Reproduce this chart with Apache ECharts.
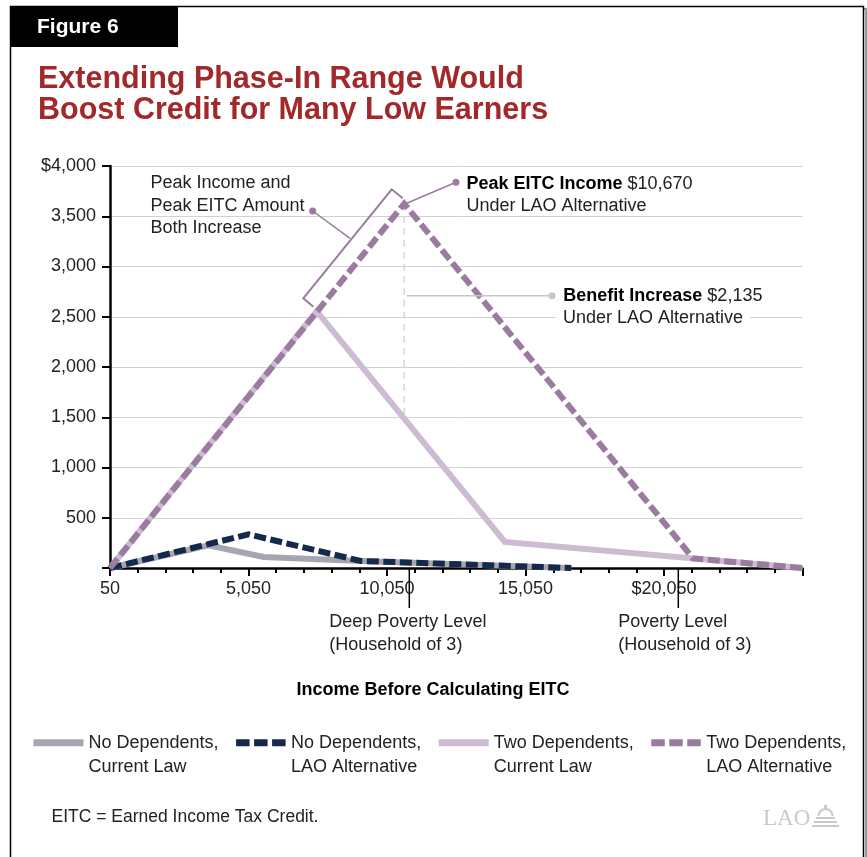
<!DOCTYPE html>
<html>
<head>
<meta charset="utf-8">
<script src="https://cdn.jsdelivr.net/npm/echarts@6/dist/echarts.min.js"></script>
<style>
  html, body { margin: 0; padding: 0; background: #fff; }
  #chart { width: 867px; height: 857px; }
</style>
</head>
<body>
<div id="chart"></div>
<script>
// Break points of each credit schedule: income before EITC (dollars) and credit (dollars)
const noDepCurrentIncome = [50, 3600, 5600, 9100, 16700];
const noDepCurrentCredit = [0, 225, 110, 70, 0];
const noDepLaoIncome = [50, 5050, 9100, 16700];
const noDepLaoCredit = [0, 335, 70, 0];
const twoDepCurrentIncome = [50, 7510, 14300, 25050];
const twoDepCurrentCredit = [0, 2555, 260, 0];
const twoDepLaoIncome = [50, 10670, 21100, 25050];
const twoDepLaoCredit = [0, 3625, 95, 0];

// Peak of the LAO alternative and the gain over current law at that income
const peakIncomeLao = 10670;
const benefitIncrease = 2135;

const seriesNames = [
  'No Dependents,\nCurrent Law',
  'No Dependents,\nLAO Alternative',
  'Two Dependents,\nCurrent Law',
  'Two Dependents,\nLAO Alternative'
];
const xTickLabels = ['50', '5,050', '10,050', '15,050', '$20,050', ''];
const yTickLabels = ['', '500', '1,000', '1,500', '2,000', '2,500', '3,000', '3,500', '$4,000'];

// The income axis starts at $50; positions along it are measured from there
const incomeStart = 50;
const toPoints = (inc, val) => inc.map((x, i) => [x - incomeStart, val[i]]);

const FONT = '"Liberation Sans", Arial, Helvetica, sans-serif';
const TXT = '#222222';
const PURPLE = '#9b7ba0';
const LAVENDER = '#cdbbd1';
const NAVY = '#15294c';
const GRAY = '#a7a6b0';

const chart = echarts.init(document.getElementById('chart'), null, { renderer: 'canvas' });

const peakCredit = twoDepLaoCredit[twoDepLaoIncome.indexOf(peakIncomeLao)];

const lineSeries = (name, data, color, dashed, z) => ({
  name, type: 'line', data, z,
  symbol: 'none', silent: true, animation: false,
  lineStyle: {
    color, width: 6, type: dashed ? [12, 4.5] : 'solid',
    cap: 'butt', join: 'miter'
  },
  itemStyle: { color }
});

// legend swatches: solid bars or three even dashes
const legendItem = (name, dashed) => ({
  name,
  lineStyle: { width: 7, type: dashed ? [13.5, 4.5] : 'solid', cap: 'butt' }
});

const option = {
  backgroundColor: '#ffffff',
  animation: false,
  grid: { left: 110, right: 64.4, top: 166, bottom: 289, containLabel: false },
  xAxis: {
    type: 'value', min: 0, max: 25000, interval: 5000,
    axisLine: { show: true, lineStyle: { color: '#000', width: 2.5 } },
    axisTick: { show: true, length: 8, lineStyle: { color: '#000', width: 2 } },
    minorTick: { show: true, splitNumber: 5, length: 5, lineStyle: { color: '#000', width: 2 } },
    splitLine: { show: false },
    axisLabel: {
      margin: 12, fontSize: 18, color: TXT, fontFamily: FONT,
      formatter: v => xTickLabels[Math.round(v / 5000)] || ''
    }
  },
  yAxis: {
    type: 'value', min: 0, max: 4000, interval: 500,
    axisLine: { show: true, lineStyle: { color: '#000', width: 2.5 } },
    axisTick: { show: true, length: 8, lineStyle: { color: '#000', width: 2 } },
    splitLine: { show: true, lineStyle: { color: '#d2d2d2', width: 1 } },
    axisLabel: {
      margin: 14, fontSize: 18, color: TXT, fontFamily: FONT,
      formatter: v => yTickLabels[Math.round(v / 500)]
    }
  },
  legend: {
    data: [
      legendItem(seriesNames[0], false),
      legendItem(seriesNames[1], true),
      legendItem(seriesNames[2], false),
      legendItem(seriesNames[3], true)
    ],
    left: 30, top: 706, padding: 0,
    itemWidth: 50, itemHeight: 7, itemGap: 14,
    selectedMode: false,
    // a leading blank line keeps the first text line level with the swatch
    formatter: name => '\n' + name,
    textStyle: { fontSize: 18, color: TXT, fontFamily: FONT, lineHeight: 24.5 }
  },
  series: [
    lineSeries(seriesNames[0], toPoints(noDepCurrentIncome, noDepCurrentCredit), GRAY, false, 2),
    lineSeries(seriesNames[1], toPoints(noDepLaoIncome, noDepLaoCredit), NAVY, true, 4),
    lineSeries(seriesNames[2], toPoints(twoDepCurrentIncome, twoDepCurrentCredit), LAVENDER, false, 3),
    lineSeries(seriesNames[3], toPoints(twoDepLaoIncome, twoDepLaoCredit), PURPLE, true, 5),
    {
      // Gain at the new peak income: from the LAO peak down by the benefit increase
      name: 'benefit', type: 'line', z: 1, silent: true, symbol: 'none',
      data: [
        [peakIncomeLao - incomeStart, peakCredit],
        [peakIncomeLao - incomeStart, peakCredit - benefitIncrease]
      ],
      lineStyle: { color: '#d6d6d6', width: 1.5, type: [7, 5] }
    }
  ],
  graphic: [
    // page frame with a soft drop shadow
    { type: 'rect', z: -1, shape: { x: 13, y: 9, width: 853, height: 900 },
      style: { fill: null, stroke: '#9a9a9a', lineWidth: 2 } },
    { type: 'rect', z: 0, shape: { x: 10.5, y: 6.5, width: 853, height: 900 },
      style: { fill: '#fff', stroke: '#000', lineWidth: 1.5 } },
    // figure tab
    { type: 'rect', z: 10, shape: { x: 10, y: 6, width: 168, height: 41 }, style: { fill: '#000' } },
    { type: 'text', z: 11, x: 37, y: 27, style: {
        text: 'Figure 6', fill: '#fff', font: 'bold 21px ' + FONT, verticalAlign: 'middle' } },
    // headline
    { type: 'text', z: 11, x: 38, y: 80, style: {
        text: 'Extending Phase-In Range Would', fill: '#a3282a', font: 'bold 30.5px ' + FONT, verticalAlign: 'middle' } },
    { type: 'text', z: 11, x: 38, y: 111, style: {
        text: 'Boost Credit for Many Low Earners', fill: '#a3282a', font: 'bold 30.5px ' + FONT, verticalAlign: 'middle' } },

    // bracket along the extended phase-in segment
    { type: 'polyline', z: 20, shape: { points: [[313.3, 306.7], [303.3, 298.3], [391.7, 189.3], [402.7, 198.3]] },
      style: { stroke: PURPLE, lineWidth: 2, fill: null } },
    { type: 'line', z: 20, shape: { x1: 350, y1: 238.3, x2: 312.7, y2: 211 },
      style: { stroke: PURPLE, lineWidth: 1.5 } },
    { type: 'circle', z: 20, shape: { cx: 312.7, cy: 211, r: 3.5 }, style: { fill: PURPLE } },
    { type: 'text', z: 20, x: 150.5, y: 172, style: {
        text: 'Peak Income and\nPeak EITC Amount\nBoth Increase',
        fill: TXT, font: '18px ' + FONT, lineHeight: 22.5 } },

    // peak income callout
    { type: 'line', z: 20, shape: { x1: 406.7, y1: 203.3, x2: 456, y2: 182.3 },
      style: { stroke: PURPLE, lineWidth: 1.5 } },
    { type: 'circle', z: 20, shape: { cx: 456, cy: 182.3, r: 3.5 }, style: { fill: PURPLE } },
    { type: 'text', z: 20, x: 466.5, y: 173, style: {
        text: '{b|Peak EITC Income} $10,670\nUnder LAO Alternative',
        fill: TXT, font: '18px ' + FONT, lineHeight: 22,
        rich: { b: { fontWeight: 'bold', fontSize: 18, fontFamily: FONT, fill: '#000', lineHeight: 22 } } } },

    // benefit increase callout
    { type: 'line', z: 20, shape: { x1: 406.7, y1: 295.7, x2: 552, y2: 295.7 },
      style: { stroke: '#c6c6c6', lineWidth: 1.5 } },
    { type: 'circle', z: 20, shape: { cx: 552, cy: 295.7, r: 3.5 }, style: { fill: '#c6c6c6' } },
    { type: 'text', z: 20, x: 563.3, y: 285, style: {
        text: '{b|Benefit Increase} $2,135',
        fill: TXT, font: '18px ' + FONT, lineHeight: 22,
        rich: { b: { fontWeight: 'bold', fontSize: 18, fontFamily: FONT, fill: '#000', lineHeight: 22 } } } },
    { type: 'text', z: 20, x: 556, y: 307, style: {
        text: 'Under LAO Alternative', fill: TXT, font: '18px ' + FONT, lineHeight: 22,
        backgroundColor: '#fff', padding: [0, 7, 0, 7] } },

    // poverty reference markers below the income axis
    { type: 'line', z: 20, shape: { x1: 409.3, y1: 569, x2: 409.3, y2: 608 },
      style: { stroke: '#000', lineWidth: 1.5 } },
    { type: 'text', z: 20, x: 329.3, y: 611, style: {
        text: 'Deep Poverty Level\n(Household of 3)', fill: TXT, font: '18px ' + FONT, lineHeight: 23 } },
    { type: 'line', z: 20, shape: { x1: 678.3, y1: 569, x2: 678.3, y2: 608 },
      style: { stroke: '#000', lineWidth: 1.5 } },
    { type: 'text', z: 20, x: 618.3, y: 611, style: {
        text: 'Poverty Level\n(Household of 3)', fill: TXT, font: '18px ' + FONT, lineHeight: 23 } },

    // axis title
    { type: 'text', z: 20, x: 433, y: 690, style: {
        text: 'Income Before Calculating EITC', fill: '#000', font: 'bold 18px ' + FONT,
        align: 'center', verticalAlign: 'middle' } },

    // footnote
    { type: 'text', z: 20, x: 51.5, y: 817, style: {
        text: 'EITC = Earned Income Tax Credit.', fill: TXT, font: '17.5px ' + FONT, verticalAlign: 'middle' } },

    // LAO mark
    { type: 'text', z: 20, x: 763, y: 819, style: {
        text: 'LAO', fill: '#c9c9c9', font: '23px "Liberation Serif", "DejaVu Serif", serif', verticalAlign: 'middle' } },
    { type: 'group', z: 20, x: 812, y: 805, children: [
        { type: 'rect', shape: { x: 0, y: 20, width: 27, height: 2 }, style: { fill: '#c9c9c9' } },
        { type: 'rect', shape: { x: 2, y: 16, width: 23, height: 2 }, style: { fill: '#c9c9c9' } },
        { type: 'rect', shape: { x: 4, y: 12, width: 19, height: 2 }, style: { fill: '#c9c9c9' } },
        { type: 'arc', shape: { cx: 13.5, cy: 11, r: 7, startAngle: Math.PI, endAngle: 2 * Math.PI },
          style: { stroke: '#c9c9c9', lineWidth: 2, fill: null } },
        { type: 'rect', shape: { x: 12, y: 0, width: 3, height: 4 }, style: { fill: '#c9c9c9' } }
      ] }
  ]
};

chart.setOption(option);
</script>
</body>
</html>
